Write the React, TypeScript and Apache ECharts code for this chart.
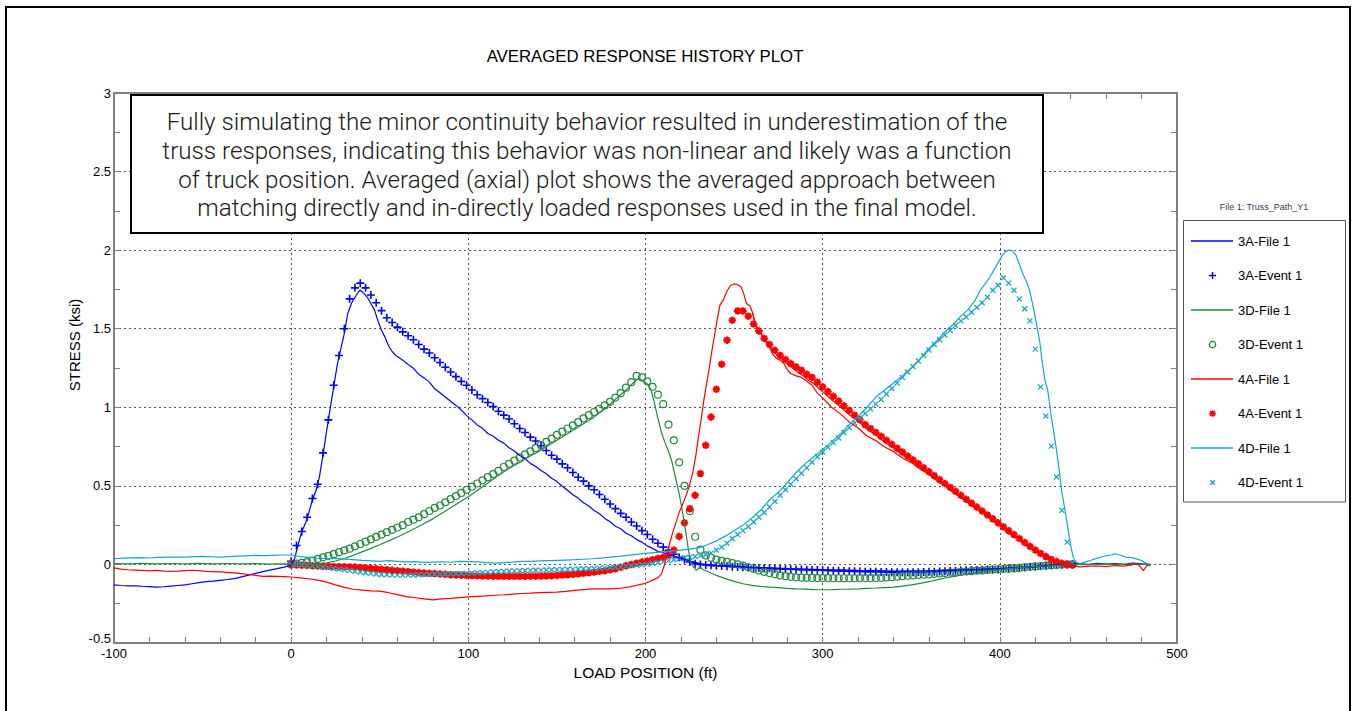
import React, { useEffect, useRef } from 'react';
import * as echarts from 'echarts';

// ---------------- data ----------------
const X_MIN = -100;
const X_MAX = 500;
const X_INTERVAL = 100;
const Y_MIN = -0.5;
const Y_MAX = 3;
const Y_INTERVAL = 0.5;

const TITLE = 'AVERAGED RESPONSE HISTORY PLOT';
const X_NAME = 'LOAD POSITION (ft)';
const Y_NAME = 'STRESS (ksi)';
const LEGEND_TITLE = 'File 1: Truss_Path_Y1';
const NOTE_LINES = [
  'Fully simulating the minor continuity behavior resulted in underestimation of the',
  'truss responses, indicating this behavior was non-linear and likely was a function',
  'of truck position. Averaged (axial) plot shows the averaged approach between',
  'matching directly and in-directly loaded responses used in the final model.',
];

// load positions of the measured (event) samples
const EVENT_X = [
  0, 3, 6, 9, 12, 15, 18, 21, 24, 27,
  30, 33, 36, 39, 42, 45, 48, 51, 54, 57,
  60, 63, 66, 69, 72, 75, 78, 81, 84, 87,
  90, 93, 96, 99, 102, 105, 108, 111, 114, 117,
  120, 123, 126, 129, 132, 135, 138, 141, 144, 147,
  150, 153, 156, 159, 162, 165, 168, 171, 174, 177,
  180, 183, 186, 189, 192, 195, 198, 201, 204, 207,
  210, 213, 216, 219, 222, 225, 228, 231, 234, 237,
  240, 243, 246, 249, 252, 255, 258, 261, 264, 267,
  270, 273, 276, 279, 282, 285, 288, 291, 294, 297,
  300, 303, 306, 309, 312, 315, 318, 321, 324, 327,
  330, 333, 336, 339, 342, 345, 348, 351, 354, 357,
  360, 363, 366, 369, 372, 375, 378, 381, 384, 387,
  390, 393, 396, 399, 402, 405, 408, 411, 414, 417,
  420, 423, 426, 429, 432, 435, 438, 441,
];

const EVENT_3A = [
  0.02, 0.12, 0.21, 0.30, 0.42, 0.51, 0.71, 0.92, 1.14, 1.33,
  1.50, 1.69, 1.76, 1.79, 1.76, 1.715, 1.665, 1.615, 1.57, 1.54,
  1.51, 1.48, 1.455, 1.43, 1.40, 1.37, 1.345, 1.315, 1.285, 1.255,
  1.225, 1.195, 1.165, 1.14, 1.11, 1.08, 1.055, 1.03, 1.005, 0.975,
  0.95, 0.925, 0.895, 0.865, 0.84, 0.81, 0.785, 0.755, 0.725, 0.695,
  0.67, 0.64, 0.615, 0.585, 0.555, 0.53, 0.50, 0.475, 0.445, 0.415,
  0.385, 0.355, 0.325, 0.30, 0.27, 0.245, 0.215, 0.19, 0.16, 0.135,
  0.11, 0.09, 0.065, 0.045, 0.03, 0.015, 0.005, 0.0, -0.003, -0.006,
  -0.008, -0.01, -0.012, -0.014, -0.016, -0.018, -0.02, -0.021, -0.022, -0.024,
  -0.025, -0.027, -0.028, -0.03, -0.031, -0.032, -0.033, -0.034, -0.035, -0.036,
  -0.037, -0.038, -0.04, -0.041, -0.042, -0.043, -0.044, -0.045, -0.046, -0.047,
  -0.047, -0.048, -0.048, -0.049, -0.049, -0.049, -0.049, -0.049, -0.049, -0.048,
  -0.047, -0.046, -0.045, -0.043, -0.042, -0.04, -0.038, -0.037, -0.036, -0.035,
  -0.034, -0.033, -0.032, -0.03, -0.028, -0.026, -0.024, -0.022, -0.02, -0.017,
  -0.015, -0.012, -0.009, -0.006, -0.004, -0.002, 0.0, 0.0,
];

const EVENT_3D = [
  0.0, 0.005, 0.01, 0.015, 0.025, 0.035, 0.045, 0.055, 0.065, 0.078,
  0.09, 0.10, 0.115, 0.13, 0.145, 0.16, 0.175, 0.19, 0.205, 0.22,
  0.235, 0.25, 0.27, 0.285, 0.30, 0.32, 0.34, 0.36, 0.375, 0.395,
  0.415, 0.435, 0.455, 0.475, 0.495, 0.515, 0.535, 0.555, 0.575, 0.595,
  0.62, 0.64, 0.66, 0.68, 0.70, 0.72, 0.74, 0.76, 0.78, 0.80,
  0.825, 0.845, 0.865, 0.885, 0.905, 0.93, 0.95, 0.97, 0.99, 1.012,
  1.035, 1.062, 1.09, 1.125, 1.16, 1.20, 1.19, 1.165, 1.13, 1.08,
  1.02, 0.89, 0.79, 0.65, 0.50, 0.34, 0.176, 0.094, 0.057, 0.043,
  0.03, 0.023, 0.016, 0.008, 0.0, -0.008, -0.018, -0.028, -0.038, -0.047,
  -0.055, -0.062, -0.07, -0.075, -0.079, -0.082, -0.084, -0.085, -0.086, -0.087,
  -0.087, -0.087, -0.088, -0.088, -0.088, -0.088, -0.088, -0.087, -0.087, -0.087,
  -0.087, -0.085, -0.083, -0.081, -0.078, -0.075, -0.072, -0.07, -0.067, -0.065,
  -0.063, -0.06, -0.057, -0.055, -0.052, -0.05, -0.048, -0.045, -0.043, -0.04,
  -0.038, -0.035, -0.033, -0.031, -0.029, -0.027, -0.024, -0.022, -0.018, -0.015,
  -0.013, -0.01, -0.008, -0.006, -0.003, -0.001, 0.0, 0.0,
];

const EVENT_4A = [
  0.0, -0.003, -0.005, -0.007, -0.009, -0.01, -0.011, -0.012, -0.013, -0.014,
  -0.015, -0.016, -0.017, -0.019, -0.022, -0.025, -0.028, -0.031, -0.034, -0.037,
  -0.04, -0.043, -0.046, -0.049, -0.052, -0.054, -0.056, -0.058, -0.061, -0.063,
  -0.065, -0.067, -0.069, -0.07, -0.071, -0.072, -0.073, -0.074, -0.075, -0.076,
  -0.076, -0.076, -0.076, -0.076, -0.076, -0.075, -0.075, -0.074, -0.073, -0.072,
  -0.07, -0.068, -0.066, -0.063, -0.06, -0.056, -0.052, -0.048, -0.044, -0.04,
  -0.034, -0.028, -0.018, -0.008, 0.0, 0.008, 0.015, 0.022, 0.03, 0.038,
  0.045, 0.06, 0.092, 0.178, 0.265, 0.355, 0.44, 0.578, 0.758, 0.938,
  1.115, 1.274, 1.427, 1.554, 1.613, 1.613, 1.58, 1.53, 1.486, 1.438,
  1.40, 1.363, 1.33, 1.304, 1.278, 1.257, 1.236, 1.21, 1.19, 1.16,
  1.13, 1.10, 1.07, 1.04, 1.01, 0.98, 0.95, 0.92, 0.89, 0.865,
  0.84, 0.815, 0.79, 0.765, 0.74, 0.715, 0.69, 0.665, 0.64, 0.615,
  0.59, 0.565, 0.54, 0.515, 0.49, 0.465, 0.44, 0.415, 0.39, 0.365,
  0.34, 0.315, 0.29, 0.265, 0.24, 0.215, 0.19, 0.165, 0.14, 0.115,
  0.092, 0.07, 0.05, 0.032, 0.018, 0.007, 0.0, -0.003,
];

const EVENT_4D = [
  0.0, -0.002, -0.004, -0.006, -0.01, -0.014, -0.018, -0.022, -0.026, -0.03,
  -0.034, -0.038, -0.043, -0.048, -0.053, -0.057, -0.061, -0.064, -0.066, -0.068,
  -0.068, -0.068, -0.068, -0.067, -0.066, -0.065, -0.064, -0.063, -0.062, -0.061,
  -0.06, -0.059, -0.058, -0.057, -0.055, -0.053, -0.051, -0.049, -0.047, -0.045,
  -0.043, -0.042, -0.041, -0.04, -0.039, -0.038, -0.037, -0.036, -0.035, -0.034,
  -0.033, -0.032, -0.031, -0.03, -0.029, -0.028, -0.027, -0.026, -0.024, -0.022,
  -0.02, -0.017, -0.014, -0.011, -0.008, -0.005, -0.002, 0.002, 0.007, 0.012,
  0.018, 0.024, 0.03, 0.037, 0.042, 0.046, 0.05, 0.056, 0.063, 0.072,
  0.09, 0.11, 0.135, 0.165, 0.19, 0.215, 0.24, 0.27, 0.30, 0.33,
  0.365, 0.40, 0.44, 0.475, 0.51, 0.545, 0.58, 0.615, 0.65, 0.685,
  0.715, 0.745, 0.775, 0.805, 0.84, 0.87, 0.90, 0.93, 0.96, 0.99,
  1.02, 1.05, 1.085, 1.12, 1.155, 1.19, 1.225, 1.26, 1.295, 1.33,
  1.365, 1.40, 1.43, 1.46, 1.49, 1.52, 1.55, 1.575, 1.605, 1.635,
  1.665, 1.70, 1.745, 1.777, 1.824, 1.79, 1.745, 1.69, 1.627, 1.55,
  1.37, 1.13, 0.945, 0.753, 0.556, 0.344, 0.142, 0.01,
];

// analytical model (file) histories: [load position, stress]
const FILE_3A: [number, number][] = [
  [-100, -0.13], [-96, -0.134], [-92, -0.137], [-88, -0.136], [-84, -0.139], [-80, -0.141], [-76, -0.144],
  [-72, -0.142], [-68, -0.138], [-64, -0.134], [-60, -0.13], [-56, -0.123], [-52, -0.116], [-48, -0.11],
  [-44, -0.106], [-40, -0.101], [-36, -0.096], [-32, -0.09], [-28, -0.079], [-24, -0.068], [-20, -0.057],
  [-16, -0.046], [-12, -0.036], [-8, -0.027], [-4, -0.017], [0, -0.006], [2, 0.04], [4, 0.13], [6, 0.21],
  [8, 0.26], [10, 0.33], [12, 0.41], [14, 0.47], [16, 0.56], [18, 0.70], [20, 0.85], [22, 0.99], [24, 1.13],
  [26, 1.27], [28, 1.37], [30, 1.47], [32, 1.60], [34, 1.66], [36, 1.70], [38, 1.735], [39, 1.745],
  [41, 1.725], [43, 1.70], [45, 1.66], [47, 1.62], [49, 1.55], [51, 1.49], [53, 1.445], [55, 1.39],
  [57, 1.355], [59, 1.33], [61, 1.315], [63, 1.30], [66, 1.272], [69, 1.248], [72, 1.21], [75, 1.187],
  [78, 1.16], [81, 1.118], [84, 1.093], [87, 1.065], [90, 1.038], [93, 1.012], [96, 0.983], [99, 0.947],
  [102, 0.92], [105, 0.888], [108, 0.866], [111, 0.833], [114, 0.816], [117, 0.79], [120, 0.772],
  [123, 0.743], [126, 0.722], [129, 0.693], [132, 0.672], [135, 0.643], [138, 0.623], [141, 0.598],
  [144, 0.577], [147, 0.548], [150, 0.527], [153, 0.498], [156, 0.472], [159, 0.443], [162, 0.422],
  [165, 0.393], [168, 0.372], [171, 0.343], [174, 0.322], [177, 0.293], [180, 0.272], [183, 0.243],
  [186, 0.227], [189, 0.198], [192, 0.182], [195, 0.158], [198, 0.142], [201, 0.118], [204, 0.102],
  [207, 0.083], [210, 0.076], [213, 0.061], [216, 0.053], [219, 0.04], [222, 0.034], [225, 0.021],
  [228, 0.013], [231, 0.004], [234, 0.0], [240, -0.006], [250, -0.011], [260, -0.019], [270, -0.021],
  [280, -0.027], [290, -0.029], [300, -0.033], [310, -0.034], [320, -0.038], [330, -0.039], [340, -0.043],
  [350, -0.041], [360, -0.041], [370, -0.036], [380, -0.034], [390, -0.029], [400, -0.027], [410, -0.019],
  [420, -0.014], [430, -0.005], [440, 0.0], [445, 0.006], [450, -0.001], [455, 0.007], [460, 0.002],
  [465, 0.005], [470, 0.0], [475, 0.009], [480, 0.003], [485, 0.0],
];

const FILE_3D: [number, number][] = [
  [-100, 0.005], [-92, 0.003], [-84, 0.007], [-76, 0.004], [-68, 0.006], [-60, 0.004], [-52, 0.007],
  [-44, 0.004], [-36, 0.006], [-28, 0.003], [-20, 0.005], [-12, 0.002], [-4, 0.003], [0, 0.0], [5, -0.002],
  [10, 0.0], [15, 0.004], [20, 0.01], [25, 0.022], [30, 0.038], [35, 0.058], [40, 0.08], [45, 0.102],
  [50, 0.125], [55, 0.15], [60, 0.175], [65, 0.202], [70, 0.23], [75, 0.26], [80, 0.29], [85, 0.325],
  [90, 0.36], [95, 0.395], [100, 0.43], [105, 0.47], [110, 0.51], [115, 0.55], [120, 0.59], [125, 0.625],
  [130, 0.655], [135, 0.69], [140, 0.72], [145, 0.755], [150, 0.79], [155, 0.825], [160, 0.86],
  [165, 0.895], [170, 0.93], [174, 0.965], [178, 1.0], [182, 1.04], [186, 1.08], [190, 1.12],
  [193, 1.155], [195, 1.175], [197, 1.18], [199, 1.165], [201, 1.15], [203, 1.115], [205, 1.03],
  [207, 0.93], [209, 0.84], [211, 0.775], [213, 0.72], [215, 0.65], [217, 0.55], [219, 0.45], [221, 0.33],
  [222.6, 0.217], [224, 0.11], [225.4, 0.02], [227, -0.015], [228.8, -0.038], [230.5, -0.018],
  [233, -0.035], [236, -0.05], [240, -0.07], [245, -0.09], [250, -0.108], [255, -0.123], [260, -0.133],
  [265, -0.14], [270, -0.145], [275, -0.148], [280, -0.152], [285, -0.155], [290, -0.157], [295, -0.16],
  [300, -0.161], [305, -0.16], [310, -0.158], [315, -0.157], [320, -0.155], [325, -0.152], [330, -0.15],
  [335, -0.147], [340, -0.145], [345, -0.138], [350, -0.13], [355, -0.12], [360, -0.11], [365, -0.097],
  [370, -0.085], [375, -0.074], [380, -0.064], [385, -0.055], [390, -0.047], [395, -0.04], [400, -0.033],
  [405, -0.027], [410, -0.022], [415, -0.017], [420, -0.013], [425, -0.01], [430, -0.007], [435, -0.004],
  [440, -0.002], [450, 0.0], [460, 0.002], [470, 0.0], [480, 0.002], [485, 0.0],
];

const FILE_4A: [number, number][] = [
  [-100, -0.022], [-96, -0.03], [-92, -0.034], [-88, -0.036], [-84, -0.038], [-80, -0.041], [-76, -0.038],
  [-72, -0.042], [-68, -0.044], [-64, -0.043], [-60, -0.04], [-56, -0.037], [-52, -0.039], [-48, -0.044],
  [-44, -0.046], [-40, -0.048], [-36, -0.05], [-32, -0.054], [-28, -0.059], [-24, -0.064], [-20, -0.07],
  [-16, -0.076], [-12, -0.074], [-8, -0.076], [-4, -0.078], [0, -0.08], [5, -0.085], [10, -0.091],
  [15, -0.1], [20, -0.113], [25, -0.13], [30, -0.146], [35, -0.158], [40, -0.163], [45, -0.168],
  [50, -0.17], [55, -0.18], [60, -0.192], [65, -0.205], [70, -0.212], [75, -0.219], [80, -0.226],
  [85, -0.219], [90, -0.216], [95, -0.211], [100, -0.207], [105, -0.203], [110, -0.2], [115, -0.196],
  [120, -0.193], [125, -0.189], [130, -0.185], [135, -0.183], [140, -0.18], [145, -0.178], [150, -0.176],
  [155, -0.171], [160, -0.165], [165, -0.16], [170, -0.156], [175, -0.155], [180, -0.155], [185, -0.153],
  [190, -0.145], [195, -0.133], [200, -0.12], [204, -0.1], [207, -0.085], [209, -0.06], [210.5, -0.01],
  [212, 0.06], [213.5, 0.13], [215, 0.19], [217, 0.26], [219, 0.33], [221, 0.385], [223, 0.44],
  [225, 0.51], [227, 0.6], [228.5, 0.7], [230, 0.82], [231.5, 0.93], [233, 1.05], [234.5, 1.15],
  [236, 1.25], [237.5, 1.36], [239, 1.46], [240.5, 1.56], [242, 1.65], [244, 1.685], [246, 1.74],
  [248, 1.775], [250, 1.785], [252, 1.78], [254, 1.765], [255.5, 1.72], [257, 1.66], [259, 1.645],
  [260.5, 1.6], [262, 1.53], [264, 1.49], [266, 1.46], [268, 1.415], [270, 1.38], [272, 1.335],
  [274, 1.31], [276, 1.3], [278, 1.28], [280, 1.24], [282, 1.215], [285, 1.2], [288, 1.19], [291, 1.165],
  [294, 1.14], [297, 1.09], [300, 1.06], [305, 1.0], [310, 0.958], [315, 0.907], [320, 0.868],
  [325, 0.817], [330, 0.788], [335, 0.747], [340, 0.718], [345, 0.677], [350, 0.648], [355, 0.607],
  [360, 0.573], [365, 0.527], [370, 0.493], [375, 0.452], [380, 0.418], [385, 0.372], [390, 0.338],
  [395, 0.287], [400, 0.248], [405, 0.197], [410, 0.163], [415, 0.117], [420, 0.09], [425, 0.053],
  [430, 0.027], [435, 0.006], [440, -0.005], [445, -0.015], [450, -0.011], [455, -0.01], [460, -0.014],
  [465, -0.007], [470, -0.011], [474, -0.004], [477, 0.006], [479, -0.01], [481, -0.04], [483, -0.005],
  [485, -0.008],
];

// second (return) trace of the 4A model history
const FILE_4A_RETURN: [number, number][] = [
  [260.5, 1.6], [262, 1.52], [265, 1.47], [268, 1.42], [271, 1.375], [274, 1.335], [277, 1.305],
  [280, 1.275], [283, 1.25], [286, 1.222], [289, 1.2], [292, 1.172], [295, 1.15], [298, 1.118],
  [301, 1.09], [305, 1.048], [310, 1.003], [315, 0.952], [320, 0.913], [325, 0.862], [330, 0.823],
  [335, 0.777], [340, 0.743], [345, 0.697], [350, 0.662], [355, 0.617], [360, 0.578], [365, 0.532],
  [370, 0.493], [375, 0.447], [380, 0.412], [385, 0.367], [390, 0.333], [395, 0.287], [400, 0.252],
  [405, 0.207], [410, 0.172], [415, 0.127], [420, 0.092], [425, 0.053], [430, 0.03], [435, 0.008],
  [440, 0.0],
];

const FILE_4D: [number, number][] = [
  [-100, 0.036], [-95, 0.04], [-90, 0.042], [-85, 0.043], [-80, 0.041], [-75, 0.045], [-70, 0.046],
  [-65, 0.047], [-60, 0.046], [-55, 0.05], [-50, 0.051], [-45, 0.049], [-40, 0.047], [-35, 0.05],
  [-30, 0.053], [-25, 0.055], [-20, 0.057], [-15, 0.056], [-10, 0.058], [-5, 0.06], [0, 0.06], [5, 0.05],
  [10, 0.045], [15, 0.04], [20, 0.036], [25, 0.038], [30, 0.034], [35, 0.03], [40, 0.026], [45, 0.023],
  [50, 0.02], [55, 0.024], [60, 0.02], [65, 0.016], [70, 0.018], [75, 0.013], [80, 0.015], [85, 0.017],
  [90, 0.014], [95, 0.02], [100, 0.018], [105, 0.016], [110, 0.012], [115, 0.008], [120, 0.012],
  [125, 0.015], [130, 0.02], [135, 0.019], [140, 0.022], [145, 0.024], [150, 0.026], [155, 0.028],
  [160, 0.03], [165, 0.033], [170, 0.036], [175, 0.04], [180, 0.046], [185, 0.051], [190, 0.058],
  [195, 0.064], [200, 0.07], [205, 0.075], [210, 0.08], [215, 0.086], [220, 0.091], [225, 0.097],
  [230, 0.105], [235, 0.125], [240, 0.15], [245, 0.18], [250, 0.215], [255, 0.25], [260, 0.295],
  [265, 0.345], [270, 0.41], [275, 0.46], [280, 0.52], [285, 0.585], [290, 0.64], [295, 0.685],
  [300, 0.73], [305, 0.78], [310, 0.83], [315, 0.89], [320, 0.94], [325, 1.0], [330, 1.065],
  [335, 1.11], [340, 1.155], [345, 1.2], [350, 1.25], [355, 1.31], [360, 1.375], [365, 1.43],
  [370, 1.49], [374, 1.53], [378, 1.58], [382, 1.62], [386, 1.68], [389, 1.745], [392, 1.79],
  [395, 1.84], [398, 1.9], [401, 1.96], [403, 1.99], [405, 2.0], [407, 1.995], [409, 1.97], [411, 1.91],
  [413, 1.85], [415, 1.8], [417, 1.735], [419, 1.63], [421, 1.51], [422.5, 1.42], [424, 1.28],
  [425.5, 1.17], [427, 1.11], [428, 1.03], [429, 0.94], [430.5, 0.84], [432, 0.726], [433.5, 0.6],
  [435, 0.46], [437, 0.33], [438.6, 0.217], [440, 0.12], [441.4, 0.046], [443, 0.015], [445, 0.004],
  [448, 0.015], [451, 0.025], [455, 0.04], [460, 0.055], [463, 0.06], [465, 0.068], [468, 0.06],
  [471, 0.047], [474, 0.045], [477, 0.035], [480, 0.025], [483, 0.004], [485, -0.004],
];

// ---------------- styling ----------------
const BLUE = '#0000ff';
const GREEN = '#228b3b';
const RED = '#ff0000';
const CYAN = '#17a7c9';
const AXIS_GRAY = '#808080';
const ARIAL = "'Liberation Sans', Arial, Helvetica, sans-serif";

const SYM_PLUS = 'path://M0,5L10,5M5,0L5,10';
const SYM_CIRCLE = 'path://M0,5A5,5,0,1,1,10,5A5,5,0,1,1,0,5Z';
const SYM_STAR = 'path://M0,5L10,5M5,0L5,10M1.5,1.5L8.5,8.5M1.5,8.5L8.5,1.5';
const SYM_CROSS = 'path://M0,0L10,10M0,10L10,0';

type LegendKind = 'line' | 'plus' | 'circle' | 'star' | 'cross';
const LEGEND_ITEMS: { name: string; kind: LegendKind; color: string }[] = [
  { name: '3A-File 1', kind: 'line', color: BLUE },
  { name: '3A-Event 1', kind: 'plus', color: BLUE },
  { name: '3D-File 1', kind: 'line', color: GREEN },
  { name: '3D-Event 1', kind: 'circle', color: GREEN },
  { name: '4A-File 1', kind: 'line', color: RED },
  { name: '4A-Event 1', kind: 'star', color: RED },
  { name: '4D-File 1', kind: 'line', color: CYAN },
  { name: '4D-Event 1', kind: 'cross', color: CYAN },
];

function eventData(values: number[]) {
  return EVENT_X.map((x, i) => [x, values[i]]);
}

function lineSeries(name: string, data: [number, number][], color: string) {
  return {
    name,
    type: 'line',
    data,
    symbol: 'none',
    showSymbol: false,
    smooth: false,
    lineStyle: { color, width: 1.2 },
    itemStyle: { color },
    emphasis: { disabled: true },
    silent: true,
  };
}

function scatterSeries(name: string, values: number[], color: string, symbol: string, size: number, bw: number, fill: string) {
  return {
    name,
    type: 'scatter',
    data: eventData(values),
    symbol,
    symbolSize: size,
    itemStyle: { color: fill, borderColor: color, borderWidth: bw, opacity: 1 },
    emphasis: { disabled: true },
    silent: true,
  };
}

function placedText(x: number, y: number, text: string, font: string, fill: string, align: string, extra: any = {}, lineHeight?: number) {
  const style: any = {
    text,
    fill,
    font,
    textAlign: align,
    textVerticalAlign: 'middle',
    align,
    verticalAlign: 'middle',
  };
  if (lineHeight) style.lineHeight = lineHeight;
  return { type: 'text', x, y, ...extra, style };
}

function legendGraphics(): any[] {
  const els: any[] = [];
  const x0 = 1191;
  const x1 = 1233;
  const cx = 1212.5;
  const top = 241;
  const pitch = 34.5;
  LEGEND_ITEMS.forEach((it, i) => {
    const y = top + i * pitch;
    const c = it.color;
    if (it.kind === 'line') {
      els.push({ type: 'line', shape: { x1: x0, y1: y, x2: x1, y2: y }, style: { stroke: c, lineWidth: 1.5 } });
    } else if (it.kind === 'plus') {
      els.push({ type: 'line', shape: { x1: cx - 3.5, y1: y, x2: cx + 3.5, y2: y }, style: { stroke: c, lineWidth: 1.5 } });
      els.push({ type: 'line', shape: { x1: cx, y1: y - 3.5, x2: cx, y2: y + 3.5 }, style: { stroke: c, lineWidth: 1.5 } });
    } else if (it.kind === 'circle') {
      els.push({ type: 'circle', shape: { cx, cy: y, r: 3.2 }, style: { fill: 'none', stroke: c, lineWidth: 1.3 } });
    } else if (it.kind === 'star') {
      const r = 3.3;
      const d = 2.4;
      els.push({ type: 'line', shape: { x1: cx - r, y1: y, x2: cx + r, y2: y }, style: { stroke: c, lineWidth: 1.8 } });
      els.push({ type: 'line', shape: { x1: cx, y1: y - r, x2: cx, y2: y + r }, style: { stroke: c, lineWidth: 1.8 } });
      els.push({ type: 'line', shape: { x1: cx - d, y1: y - d, x2: cx + d, y2: y + d }, style: { stroke: c, lineWidth: 1.8 } });
      els.push({ type: 'line', shape: { x1: cx - d, y1: y + d, x2: cx + d, y2: y - d }, style: { stroke: c, lineWidth: 1.8 } });
    } else {
      const r = 2.2;
      els.push({ type: 'line', shape: { x1: cx - r, y1: y - r, x2: cx + r, y2: y + r }, style: { stroke: c, lineWidth: 1.4 } });
      els.push({ type: 'line', shape: { x1: cx - r, y1: y + r, x2: cx + r, y2: y - r }, style: { stroke: c, lineWidth: 1.4 } });
    }
    els.push(placedText(1238, y, it.name, `13px ${ARIAL}`, '#000', 'left'));
  });
  return els;
}

function buildOption() {
  const axisLine = { show: true, onZero: false, lineStyle: { color: AXIS_GRAY, width: 2 } };
  const axisTick = { show: true, inside: true, length: 6, lineStyle: { color: AXIS_GRAY, width: 1 } };
  const labelStyle = { fontFamily: ARIAL, fontSize: 13, color: '#000' };
  const split = { show: true, lineStyle: { color: '#555', width: 1, type: [2, 3] } };

  const noteTexts = NOTE_LINES.map((t, i) =>
    placedText(587, 122 + i * 28.8, t, `300 24.2px Roboto, 'Open Sans', sans-serif`, '#1a1a1a', 'center', { z: 101 }, 27)
  );

  return {
    animation: false,
    backgroundColor: '#ffffff',
    grid: { left: 114, top: 93, width: 1063, height: 550, containLabel: false },
    xAxis: [
      {
        type: 'value',
        position: 'bottom',
        min: X_MIN,
        max: X_MAX,
        interval: X_INTERVAL,
        name: X_NAME,
        nameLocation: 'middle',
        nameGap: 18,
        nameTextStyle: { fontFamily: ARIAL, fontSize: 15.5, color: '#000' },
        axisLine,
        axisTick,
        minorTick: { show: true, splitNumber: 5, length: 6, lineStyle: { color: AXIS_GRAY, width: 1 } },
        axisLabel: { ...labelStyle, margin: 4, showMinLabel: true, showMaxLabel: true },
        splitLine: split,
      },
      {
        type: 'value',
        position: 'top',
        min: X_MIN,
        max: X_MAX,
        interval: X_INTERVAL,
        axisLine,
        axisTick,
        minorTick: { show: true, splitNumber: 5, length: 6, lineStyle: { color: AXIS_GRAY, width: 1 } },
        axisLabel: { show: false },
        splitLine: { show: false },
      },
    ],
    yAxis: [
      {
        type: 'value',
        position: 'left',
        min: Y_MIN,
        max: Y_MAX,
        interval: Y_INTERVAL,
        name: Y_NAME,
        nameLocation: 'middle',
        nameGap: 31,
        nameTextStyle: { fontFamily: ARIAL, fontSize: 15, color: '#000', padding: [0, 0, 0, 46] },
        axisLine,
        axisTick,
        minorTick: { show: true, splitNumber: 2, length: 6, lineStyle: { color: AXIS_GRAY, width: 1 } },
        // the lowest label sits in the corner next to "-100"; it is drawn slightly raised below
        axisLabel: {
          ...labelStyle,
          margin: 3,
          showMinLabel: true,
          showMaxLabel: true,
          formatter: (v: number) => (v === Y_MIN ? '' : String(v)),
        },
        splitLine: split,
      },
      {
        type: 'value',
        position: 'right',
        min: Y_MIN,
        max: Y_MAX,
        interval: Y_INTERVAL,
        axisLine,
        axisTick,
        minorTick: { show: true, splitNumber: 2, length: 6, lineStyle: { color: AXIS_GRAY, width: 1 } },
        axisLabel: { show: false },
        splitLine: { show: false },
      },
    ],
    series: [
      lineSeries('3A-File 1', FILE_3A, BLUE),
      scatterSeries('3A-Event 1', EVENT_3A, BLUE, SYM_PLUS, 8, 1.6, BLUE),
      lineSeries('3D-File 1', FILE_3D, GREEN),
      scatterSeries('3D-Event 1', EVENT_3D, GREEN, SYM_CIRCLE, 7, 1.2, 'rgba(0,0,0,0)'),
      lineSeries('4A-File 1', FILE_4A, RED),
      lineSeries('4A-File 1 (return)', FILE_4A_RETURN, RED),
      scatterSeries('4A-Event 1', EVENT_4A, RED, SYM_STAR, 7.5, 2, RED),
      lineSeries('4D-File 1', FILE_4D, CYAN),
      scatterSeries('4D-Event 1', EVENT_4D, CYAN, SYM_CROSS, 5, 1.3, CYAN),
    ],
    graphic: [
      { type: 'rect', shape: { x: 6, y: 7, width: 1344, height: 720 }, style: { fill: 'none', stroke: '#000', lineWidth: 2 }, z: 0, silent: true },
      placedText(645, 56, TITLE, `16.8px ${ARIAL}`, '#000', 'center'),
      placedText(111, 638.5, String(Y_MIN), `13px ${ARIAL}`, '#000', 'right'),
      { type: 'rect', shape: { x: 131, y: 95, width: 912, height: 138 }, style: { fill: '#fff', stroke: '#000', lineWidth: 2 }, z: 100, silent: true },
      ...noteTexts,
      { type: 'rect', shape: { x: 1183.5, y: 220.5, width: 162, height: 281.5 }, style: { fill: '#fff', stroke: '#555', lineWidth: 1 }, z: 1, silent: true },
      placedText(1264, 207, LEGEND_TITLE, `9px ${ARIAL}`, '#3a3a5a', 'center'),
      ...legendGraphics().map((e) => ({ ...e, z: 2 })),
    ],
  };
}

export default function App() {
  const ref = useRef<HTMLDivElement | null>(null);
  useEffect(() => {
    document.body.style.margin = '0';
    if (!ref.current) return;
    const chart = echarts.init(ref.current, undefined, { renderer: 'svg', width: 1354, height: 711 });
    chart.setOption(buildOption() as any);
    return () => {
      chart.dispose();
    };
  }, []);
  return <div ref={ref} style={{ width: 1354, height: 711, background: '#fff' }} />;
}
